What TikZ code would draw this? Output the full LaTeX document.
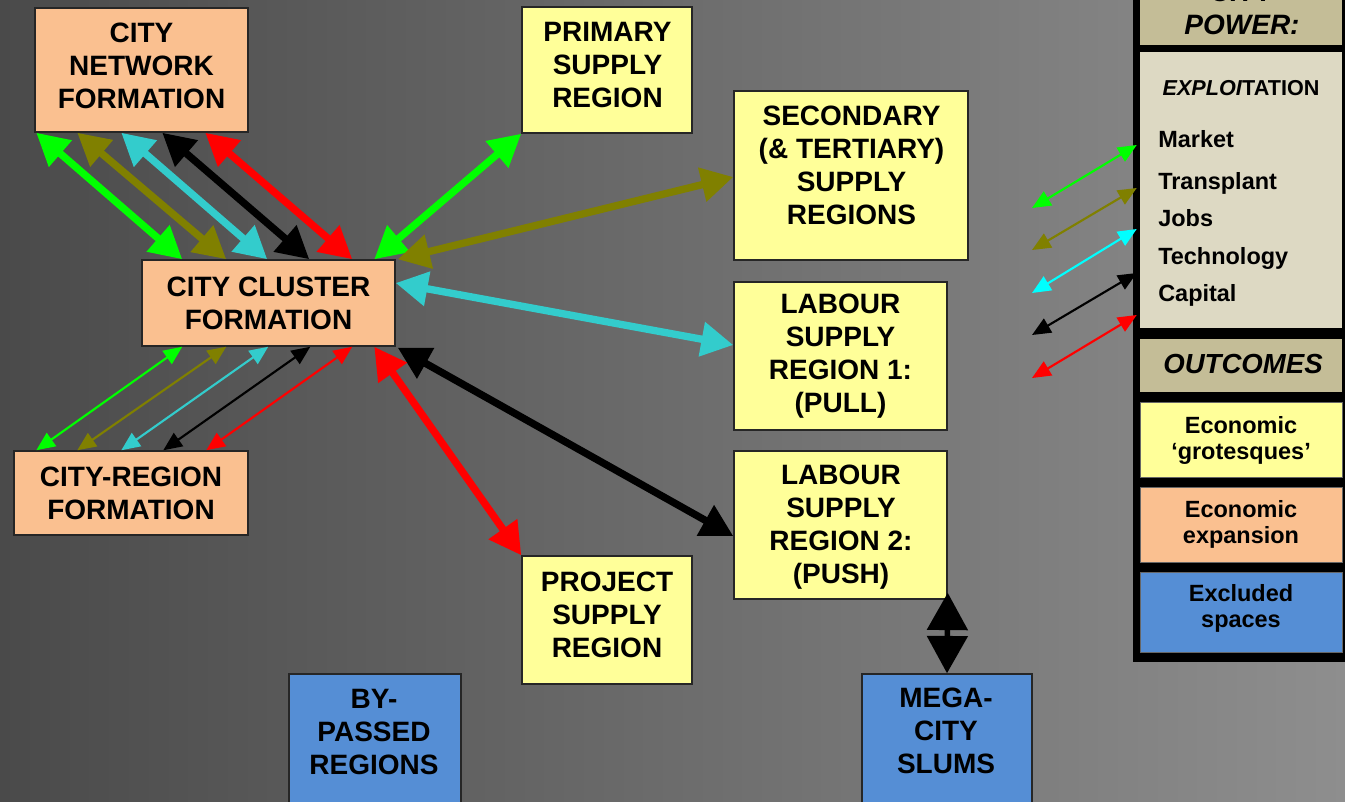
\documentclass[tikz,border=0pt]{standalone}
\usepackage{fontspec}
\setmainfont{Liberation Sans}
\usetikzlibrary{arrows.meta,calc}
\definecolor{bgL}{RGB}{74,74,74}
\definecolor{bgR}{RGB}{142,142,142}
\definecolor{peach}{RGB}{250,192,144}
\definecolor{lyellow}{RGB}{255,255,153}
\definecolor{lblue}{RGB}{85,142,213}
\definecolor{tan}{RGB}{196,189,151}
\definecolor{explbg}{RGB}{221,217,195}
\definecolor{agreen}{RGB}{0,255,0}
\definecolor{aolive}{RGB}{128,128,0}
\definecolor{acyan}{RGB}{51,204,204}
\definecolor{lcyan}{RGB}{0,255,255}
\definecolor{ared}{RGB}{255,0,0}
\begin{document}
\begin{tikzpicture}[x=0.75pt,y=-0.75pt,
  box/.style={draw=black!85, line width=1.1pt, inner sep=0pt},
  peachbox/.style={box, fill=peach},
  yellowbox/.style={box, fill=lyellow},
  bluebox/.style={box, fill=lblue},
  lbl/.style={font=\bfseries\fontsize{21}{24.75}\selectfont, align=center, inner sep=0pt},
  leglbl/.style={font=\bfseries\fontsize{17.6}{19.5}\selectfont, align=center, inner sep=0pt},
  legitem/.style={font=\bfseries\fontsize{17.6}{19.5}\selectfont, anchor=base west, inner sep=0pt},
  bigarrow/.style={line width=5.5pt, {Triangle[length=24pt,width=25pt]}-{Triangle[length=24pt,width=25pt]}},
  thinarrow/.style={line width=1.6pt, {Triangle[length=14pt,width=12pt]}-{Triangle[length=14pt,width=12pt]}},
  slumarrow/.style={line width=4pt, black, {Triangle[length=28pt,width=30pt]}-{Triangle[length=28pt,width=30pt]}}
]
\clip (0,0) rectangle (1345,801);
\shade[left color=bgL, right color=bgR] (0,0) rectangle (1345,801);

% boxes
\node[peachbox, minimum width=159.75pt, minimum height=93pt] (cnf) at (141.5,70) {};
\node[peachbox, minimum width=189.75pt, minimum height=64.5pt] (ccf) at (268.5,303) {};
\node[peachbox, minimum width=175.5pt, minimum height=63pt] (crf) at (131,493) {};
\node[yellowbox, minimum width=127.5pt, minimum height=94.5pt] (prim) at (607,70) {};
\node[yellowbox, minimum width=175.5pt, minimum height=126.75pt] (sec) at (851,175.5) {};
\node[yellowbox, minimum width=159.75pt, minimum height=111pt] (lab1) at (840.5,356) {};
\node[yellowbox, minimum width=159.75pt, minimum height=111pt] (lab2) at (840.5,525) {};
\node[yellowbox, minimum width=127.5pt, minimum height=96pt] (proj) at (607,620) {};
\node[bluebox, minimum width=129pt, minimum height=105.75pt] (byp) at (375,744.5) {};
\node[bluebox, minimum width=127.5pt, minimum height=105.75pt] (mega) at (947,744.5) {};

% box texts
\node[lbl] (cnfT) at (141.5,65.5) {CITY\\NETWORK\\FORMATION};
\node[lbl] (ccfT) at (268.5,303) {CITY CLUSTER\\FORMATION};
\node[lbl] (crfT) at (131,493) {CITY-REGION\\FORMATION};
\node[lbl] (primT) at (607.5,65) {PRIMARY\\SUPPLY\\REGION};
\node[lbl] (secT) at (851.5,165.5) {SECONDARY\\(\& TERTIARY)\\SUPPLY\\REGIONS};
\node[lbl] (lab1T) at (840.5,356) {LABOUR\\SUPPLY\\REGION 1:\\(PULL)};
\node[lbl] (lab2T) at (841,527) {LABOUR\\SUPPLY\\REGION 2:\\(PUSH)};
\node[lbl] (projT) at (607,615) {PROJECT\\SUPPLY\\REGION};
\node[lbl] (bypT) at (374,732) {BY-\\PASSED\\REGIONS};
\node[lbl] (megaT) at (946,731) {MEGA-\\CITY\\SLUMS};

% network <-> cluster
\draw[bigarrow, agreen] ($(cnf.south west)+(2,0)$) -- ($(ccf.north west)+(41,0)$);
\draw[bigarrow, aolive] ($(cnf.south west)+(43,0)$) -- ($(ccf.north west)+(85,0)$);
\draw[bigarrow, acyan] ($(cnf.south west)+(87,0)$) -- ($(ccf.north west)+(126,0)$);
\draw[bigarrow, black] ($(cnf.south west)+(128,0)$) -- ($(ccf.north west)+(168,0)$);
\draw[bigarrow, ared] ($(cnf.south west)+(171,0)$) -- ($(ccf.north west)+(211,0)$);

% region <-> cluster
\draw[thinarrow, agreen] ($(crf.north west)+(23,0)$) -- ($(ccf.south west)+(41,0)$);
\draw[thinarrow, aolive] ($(crf.north west)+(64,0)$) -- ($(ccf.south west)+(85,0)$);
\draw[thinarrow, acyan] ($(crf.north west)+(108,0)$) -- ($(ccf.south west)+(127,0)$);
\draw[thinarrow, black] ($(crf.north west)+(150,0)$) -- ($(ccf.south west)+(169,0)$);
\draw[thinarrow, ared] ($(crf.north west)+(193,0)$) -- ($(ccf.south west)+(211,0)$);

% cluster <-> supply regions
\draw[bigarrow, agreen] ($(ccf.north west)+(233,0)$) -- (prim.south west);
\draw[bigarrow, aolive] ($(ccf.north east)+(2,0)$) -- ($(sec.west)+(0,1.5)$);
\draw[bigarrow, acyan] ($(ccf.east)+(0,-20)$) -- ($(lab1.west)+(0,-11)$);
\draw[bigarrow, black] ($(ccf.south east)+(2,1)$) -- ($(lab2.west)+(0,11)$);
\draw[bigarrow, ared] ($(ccf.south west)+(233,0)$) -- (proj.north west);

% labour 2 <-> slums
\draw[slumarrow] ($(lab2.south east)+(0,-7)$) -- (mega.north);

% legend panel
\fill[black] (1133,-5) rectangle (1350,662);
\node[fill=tan, inner sep=0pt, minimum width=151.5pt, minimum height=37.5pt] (ttl) at (1241,20) {};
\node[font=\bfseries\itshape\fontsize{21}{24.75}\selectfont, align=center, inner sep=0pt] (ttlT) at (1242,8.5) {CITY\\POWER:};
\node[fill=explbg, inner sep=0pt, minimum width=151.5pt, minimum height=207pt] (expl) at (1241,190) {};
\node[font=\bfseries\fontsize{16.2}{18}\selectfont, inner sep=0pt] (explT) at (1241,88) {\textit{EXPLOI}TATION};
\node[legitem] (m1) at (1158,147) {Market};
\node[legitem] (m2) at (1158,189) {Transplant};
\node[legitem] (m3) at (1158,226) {Jobs};
\node[legitem] (m4) at (1158,264) {Technology};
\node[legitem] (m5) at (1158,301) {Capital};
\node[fill=tan, inner sep=0pt, minimum width=151.5pt, minimum height=39.75pt] (outc) at (1241,365.5) {};
\node[font=\bfseries\itshape\fontsize{20.7}{24}\selectfont, inner sep=0pt] (outcT) at (1243,364) {OUTCOMES};
\node[fill=lyellow, draw=black!60, inner sep=0pt, minimum width=151.5pt, minimum height=56.25pt] (oy) at (1241,439.5) {};
\node[leglbl] (oyT) at (1241,440) {Economic\\‘grotesques’};
\node[fill=peach, draw=black!60, inner sep=0pt, minimum width=151.5pt, minimum height=56.25pt] (oo) at (1241,524.5) {};
\node[leglbl] (ooT) at (1241,524) {Economic\\expansion};
\node[fill=lblue, draw=black!60, inner sep=0pt, minimum width=151.5pt, minimum height=60pt] (ob) at (1241,612) {};
\node[leglbl] (obT) at (1241,608) {Excluded\\spaces};

% legend arrows
\coordinate (lg1) at (1032,208);
\coordinate (lg2) at (1032,250);
\coordinate (lg3) at (1032,293);
\coordinate (lg4) at (1032,335);
\coordinate (lg5) at (1032,378);
\draw[thinarrow, agreen] (lg1) -- ($(expl.west)+(-3,-45)$);
\draw[thinarrow, aolive] (lg2) -- ($(expl.west)+(-3,-2)$);
\draw[thinarrow, lcyan] (lg3) -- ($(expl.west)+(-3,39)$);
\draw[thinarrow, black] (lg4) -- ($(expl.west)+(-3,83)$);
\draw[thinarrow, ared] (lg5) -- ($(expl.west)+(-3,125)$);
\end{tikzpicture}
\end{document}
